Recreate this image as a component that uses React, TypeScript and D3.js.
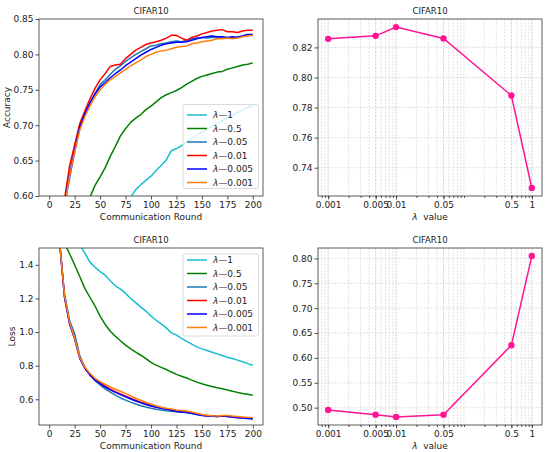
import React, { useEffect, useRef } from 'react';
import * as d3 from 'd3';

// communication rounds sampled every 5 (index i -> round 5*i)
const rounds = [
  0, 5, 10, 15, 20, 25, 30, 35, 40, 45, 50, 55, 60, 65, 70, 75, 80, 85, 90, 95, 100,
  105, 110, 115, 120, 125, 130, 135, 140, 145, 150, 155, 160, 165, 170, 175, 180, 185, 190, 195, 200,
];

const seriesNames = ['λ—1', 'λ—0.5', 'λ—0.05', 'λ—0.01', 'λ—0.005', 'λ—0.001'];
const seriesColors = ['#17becf', '#008000', '#1f77b4', '#ff0000', '#0000ff', '#ff7f0e'];

// accuracy curves (null = not drawn, below the plotted range)
const accL1 = [
  null, null, null, null, null, null, null, null, null, null, null, null, null, null, null, null,
  0.598, 0.609, 0.616, 0.622, 0.628, 0.636, 0.643, 0.651, 0.664, 0.667, 0.671, 0.676, 0.681, 0.686,
  0.690, 0.694, 0.699, 0.703, 0.706, 0.711, 0.714, 0.718, 0.721, 0.725, 0.728,
];
const accL05 = [
  null, null, null, null, null, null, null, null,
  0.598, 0.615, 0.627, 0.640, 0.656, 0.670, 0.685, 0.695, 0.704, 0.710, 0.715, 0.722, 0.727,
  0.733, 0.739, 0.743, 0.746, 0.749, 0.753, 0.758, 0.762, 0.766, 0.769, 0.771, 0.773, 0.775,
  0.776, 0.779, 0.781, 0.783, 0.785, 0.786, 0.788,
];
const accL005 = [
  null, null, null,
  0.585, 0.625, 0.662, 0.695, 0.715, 0.732, 0.745, 0.757, 0.764, 0.772, 0.779, 0.784, 0.790,
  0.795, 0.800, 0.804, 0.808, 0.812, 0.813, 0.815, 0.816, 0.818, 0.819, 0.818, 0.820, 0.822,
  0.823, 0.824, 0.823, 0.824, 0.824, 0.823, 0.824, 0.823, 0.825, 0.826, 0.828, 0.827,
];
const accL001 = [
  null, null, null,
  0.595, 0.642, 0.672, 0.702, 0.720, 0.737, 0.752, 0.764, 0.773, 0.783, 0.785, 0.786, 0.794,
  0.800, 0.806, 0.810, 0.814, 0.816, 0.818, 0.820, 0.823, 0.827, 0.827, 0.823, 0.820, 0.824,
  0.826, 0.829, 0.831, 0.833, 0.834, 0.835, 0.832, 0.832, 0.831, 0.833, 0.834, 0.834,
];
const accL0005 = [
  null, null, null,
  0.590, 0.630, 0.665, 0.697, 0.716, 0.731, 0.744, 0.754, 0.760, 0.767, 0.773, 0.778, 0.784,
  0.789, 0.794, 0.799, 0.803, 0.807, 0.810, 0.813, 0.815, 0.816, 0.817, 0.817, 0.818, 0.820,
  0.822, 0.824, 0.825, 0.826, 0.825, 0.825, 0.824, 0.825, 0.824, 0.826, 0.828, 0.828,
];
const accL0001 = [
  null, null, null,
  0.585, 0.628, 0.662, 0.693, 0.712, 0.727, 0.740, 0.750, 0.758, 0.764, 0.769, 0.774, 0.779,
  0.784, 0.788, 0.792, 0.797, 0.800, 0.803, 0.805, 0.806, 0.808, 0.810, 0.811, 0.812, 0.815,
  0.816, 0.818, 0.819, 0.820, 0.822, 0.822, 0.823, 0.822, 0.823, 0.825, 0.826, 0.827,
];

// loss curves (null = not drawn, above the plotted range)
const lossL1 = [
  null, null, null, null, null, null,
  1.52, 1.47, 1.416, 1.385, 1.36, 1.338, 1.305, 1.275, 1.255, 1.23, 1.20, 1.175, 1.148, 1.125,
  1.095, 1.07, 1.048, 1.025, 0.995, 0.982, 0.962, 0.945, 0.928, 0.912, 0.900, 0.890, 0.880,
  0.870, 0.860, 0.850, 0.843, 0.833, 0.823, 0.812, 0.803,
];
const lossL05 = [
  null, null, null,
  1.53, 1.466, 1.40, 1.33, 1.26, 1.207, 1.155, 1.095, 1.045, 1.005, 0.975, 0.948, 0.922, 0.900,
  0.881, 0.862, 0.842, 0.820, 0.803, 0.790, 0.777, 0.762, 0.748, 0.737, 0.727, 0.714, 0.702,
  0.692, 0.684, 0.676, 0.669, 0.663, 0.655, 0.648, 0.641, 0.635, 0.630, 0.624,
];
const lossL005 = [
  null, null,
  1.55, 1.23, 1.07, 0.99, 0.86, 0.79, 0.745, 0.710, 0.685, 0.662, 0.643, 0.625, 0.608, 0.595,
  0.583, 0.572, 0.562, 0.554, 0.547, 0.541, 0.536, 0.532, 0.529, 0.526, 0.523, 0.521, 0.516,
  0.510, 0.505, 0.502, 0.500, 0.498, 0.500, 0.498, 0.495, 0.492, 0.490, 0.488, 0.486,
];
const lossL001 = [
  null, null,
  1.55, 1.21, 1.05, 0.96, 0.845, 0.785, 0.748, 0.718, 0.697, 0.678, 0.660, 0.645, 0.632, 0.619,
  0.606, 0.594, 0.583, 0.573, 0.563, 0.555, 0.548, 0.542, 0.537, 0.530, 0.527, 0.524, 0.518,
  0.512, 0.506, 0.503, 0.500, 0.498, 0.500, 0.499, 0.496, 0.494, 0.492, 0.489, 0.487,
];
const lossL0005 = [
  null, null,
  1.55, 1.21, 1.05, 0.962, 0.845, 0.785, 0.745, 0.715, 0.693, 0.673, 0.656, 0.641, 0.628, 0.615,
  0.602, 0.590, 0.579, 0.569, 0.560, 0.552, 0.546, 0.540, 0.535, 0.528, 0.525, 0.522, 0.517,
  0.510, 0.504, 0.501, 0.499, 0.497, 0.502, 0.497, 0.494, 0.490, 0.488, 0.485, 0.482,
];
const lossL0001 = [
  null, null,
  1.55, 1.22, 1.06, 0.965, 0.85, 0.79, 0.755, 0.725, 0.705, 0.688, 0.673, 0.660, 0.648, 0.634,
  0.620, 0.606, 0.594, 0.582, 0.571, 0.561, 0.553, 0.547, 0.542, 0.537, 0.533, 0.530, 0.524,
  0.517, 0.510, 0.505, 0.502, 0.500, 0.503, 0.503, 0.500, 0.498, 0.495, 0.493, 0.492,
];

// final values vs lambda
const lambdas = [0.001, 0.005, 0.01, 0.05, 0.5, 1];
const lambdaLabels = ['0.001', '0.005', '0.01', '0.05', '0.5', '1'];
const finalAcc = [0.8257, 0.8277, 0.8335, 0.826, 0.788, 0.7265];
const finalLoss = [0.4954, 0.4859, 0.4813, 0.4859, 0.6256, 0.8048];

const roundTicks = [0, 25, 50, 75, 100, 125, 150, 175, 200];
const accTicks = [0.6, 0.65, 0.7, 0.75, 0.8, 0.85];
const lossTicks = [0.6, 0.8, 1.0, 1.2, 1.4];
const finalAccTicks = [0.74, 0.76, 0.78, 0.8, 0.82];
const finalLossTicks = [0.5, 0.55, 0.6, 0.65, 0.7, 0.75, 0.8];

const W = 550;
const H = 452;
const FONT = "'DejaVu Sans', sans-serif";
const TXT = '#222';
const PINK = '#ff1493';

type Box = { l: number; r: number; t: number; b: number };
type G = d3.Selection<SVGGElement, unknown, null, undefined>;

const styleAxis = (g: G) => {
  g.select('.domain').remove();
  g.selectAll('text').attr('font-family', FONT).attr('font-size', 9).attr('fill', TXT);
  g.selectAll('line').attr('stroke', TXT).attr('stroke-width', 0.8);
};

const frame = (svg: any, box: Box) => {
  svg.append('rect')
    .attr('x', box.l).attr('y', box.t)
    .attr('width', box.r - box.l).attr('height', box.b - box.t)
    .attr('fill', 'none').attr('stroke', '#333').attr('stroke-width', 0.8);
};

const title = (svg: any, box: Box) => {
  svg.append('text')
    .attr('x', (box.l + box.r) / 2).attr('y', box.t - 5)
    .attr('text-anchor', 'middle')
    .attr('font-family', FONT).attr('font-size', 8.5).attr('fill', TXT)
    .text('CIFAR10');
};

const lambdaText = (sel: any, rest: string) => {
  sel.append('tspan').attr('font-style', 'italic').text('λ');
  sel.append('tspan').text(rest);
};

const App: React.FC = () => {
  const svgRef = useRef<SVGSVGElement>(null);

  useEffect(() => {
    if (!svgRef.current) return;
    const svg = d3.select(svgRef.current);
    svg.selectAll('*').remove();

    const curvePanel = (
      box: Box, id: string, yDomain: [number, number], yTicks: number[], yFmt: string,
      series: (number | null)[][], yLabel: string, yLabelX: number,
      legendBox: Box, legendY0: number,
    ) => {
      const x = d3.scaleLinear().domain([-10, 210]).range([box.l, box.r]);
      const y = d3.scaleLinear().domain(yDomain).range([box.b, box.t]);

      svg.append('clipPath').attr('id', id)
        .append('rect').attr('x', box.l).attr('y', box.t)
        .attr('width', box.r - box.l).attr('height', box.b - box.t);

      const line = d3.line<number | null>()
        .defined(d => d !== null)
        .x((_, i) => x(rounds[i]))
        .y(d => y(d as number));

      const lines = svg.append('g').attr('clip-path', `url(#${id})`);
      series.forEach((s, k) => {
        lines.append('path')
          .attr('d', line(s))
          .attr('fill', 'none')
          .attr('stroke', seriesColors[k])
          .attr('stroke-width', 1.5)
          .attr('stroke-linejoin', 'round');
      });

      const gx = svg.append('g').attr('transform', `translate(0,${box.b})`)
        .call(d3.axisBottom(x).tickValues(roundTicks).tickSize(3.5).tickPadding(2.5));
      styleAxis(gx as any);
      const gy = svg.append('g').attr('transform', `translate(${box.l},0)`)
        .call(d3.axisLeft(y).tickValues(yTicks).tickFormat(d3.format(yFmt) as any).tickSize(3.5).tickPadding(2));
      styleAxis(gy as any);

      frame(svg, box);
      title(svg, box);

      svg.append('text')
        .attr('x', (box.l + box.r) / 2).attr('y', box.b + 24)
        .attr('text-anchor', 'middle')
        .attr('font-family', FONT).attr('font-size', 9).attr('fill', TXT)
        .text('Communication Round');
      svg.append('text')
        .attr('transform', `translate(${yLabelX},${(box.t + box.b) / 2}) rotate(-90)`)
        .attr('text-anchor', 'middle')
        .attr('font-family', FONT).attr('font-size', 9).attr('fill', TXT)
        .text(yLabel);

      // legend
      const lg = svg.append('g');
      lg.append('rect')
        .attr('x', legendBox.l).attr('y', legendBox.t)
        .attr('width', legendBox.r - legendBox.l).attr('height', legendBox.b - legendBox.t)
        .attr('rx', 2)
        .attr('fill', '#fff').attr('fill-opacity', 0.8)
        .attr('stroke', '#d0d0d0').attr('stroke-width', 0.8);
      seriesNames.forEach((name, k) => {
        const cy = legendY0 + k * 13.5;
        lg.append('line')
          .attr('x1', legendBox.l + 4).attr('x2', legendBox.l + 24)
          .attr('y1', cy).attr('y2', cy)
          .attr('stroke', seriesColors[k]).attr('stroke-width', 1.5);
        const t = lg.append('text')
          .attr('x', legendBox.l + 30).attr('y', cy + 3.2)
          .attr('font-family', FONT).attr('font-size', 9).attr('fill', TXT);
        lambdaText(t, name.slice(1));
      });
    };

    const lambdaPanel = (
      box: Box, yDomain: [number, number], yTicks: number[], yFmt: string, values: number[],
    ) => {
      const x = d3.scaleLog().domain([Math.pow(10, -3.15), Math.pow(10, 0.15)]).range([box.l, box.r]);
      const y = d3.scaleLinear().domain(yDomain).range([box.b, box.t]);
      const minor = x.ticks();

      const grid = svg.append('g')
        .attr('stroke', '#cfcfcf').attr('stroke-width', 0.6).attr('stroke-dasharray', '2,1.2');
      minor.forEach(v => {
        grid.append('line').attr('x1', x(v)).attr('x2', x(v)).attr('y1', box.t).attr('y2', box.b);
      });
      lambdas.forEach(v => {
        grid.append('line').attr('x1', x(v)).attr('x2', x(v)).attr('y1', box.t).attr('y2', box.b);
      });
      yTicks.forEach(v => {
        grid.append('line').attr('x1', box.l).attr('x2', box.r).attr('y1', y(v)).attr('y2', y(v));
      });

      const line = d3.line<number>()
        .x((_, i) => x(lambdas[i]))
        .y(d => y(d));
      svg.append('path')
        .attr('d', line(values))
        .attr('fill', 'none').attr('stroke', PINK).attr('stroke-width', 1.5);
      svg.append('g').selectAll('circle').data(values).join('circle')
        .attr('cx', (_, i) => x(lambdas[i]))
        .attr('cy', d => y(d))
        .attr('r', 3.2)
        .attr('fill', PINK);

      const gMinor = svg.append('g').attr('transform', `translate(0,${box.b})`)
        .call(d3.axisBottom(x).tickValues(minor).tickFormat(() => '').tickSize(2));
      styleAxis(gMinor as any);
      const gx = svg.append('g').attr('transform', `translate(0,${box.b})`)
        .call(d3.axisBottom(x).tickValues(lambdas)
          .tickFormat((_, i) => lambdaLabels[i]).tickSize(3.5).tickPadding(2.5));
      styleAxis(gx as any);
      const gy = svg.append('g').attr('transform', `translate(${box.l},0)`)
        .call(d3.axisLeft(y).tickValues(yTicks).tickFormat(d3.format(yFmt) as any).tickSize(3.5).tickPadding(2));
      styleAxis(gy as any);

      frame(svg, box);
      title(svg, box);

      const xl = svg.append('text')
        .attr('x', (box.l + box.r) / 2).attr('y', box.b + 24)
        .attr('text-anchor', 'middle')
        .attr('font-family', FONT).attr('font-size', 9).attr('fill', TXT)
        .attr('xml:space', 'preserve')
        .style('white-space', 'pre');
      lambdaText(xl, '  value');
    };

    curvePanel(
      { l: 39, r: 263, t: 19, b: 196 }, 'clipAcc', [0.6, 0.85], accTicks, '.2f',
      [accL1, accL05, accL005, accL001, accL0005, accL0001], 'Accuracy', 10,
      { l: 183, r: 258.5, t: 104.5, b: 188.5 }, 115,
    );
    curvePanel(
      { l: 39, r: 263, t: 248, b: 425 }, 'clipLoss', [0.447, 1.5], lossTicks, '.1f',
      [lossL1, lossL05, lossL005, lossL001, lossL0005, lossL0001], 'Loss', 15,
      { l: 183, r: 258.5, t: 254, b: 336 }, 260,
    );
    lambdaPanel({ l: 318, r: 542, t: 19, b: 196 }, [0.7212, 0.8389], finalAccTicks, '.2f', finalAcc);
    lambdaPanel({ l: 318, r: 542, t: 248, b: 425 }, [0.4651, 0.8210], finalLossTicks, '.2f', finalLoss);
  }, []);

  return (
    <svg
      ref={svgRef}
      width={W}
      height={H}
      style={{ position: 'absolute', left: 0, top: 0, background: '#fff' }}
    />
  );
};

export default App;
